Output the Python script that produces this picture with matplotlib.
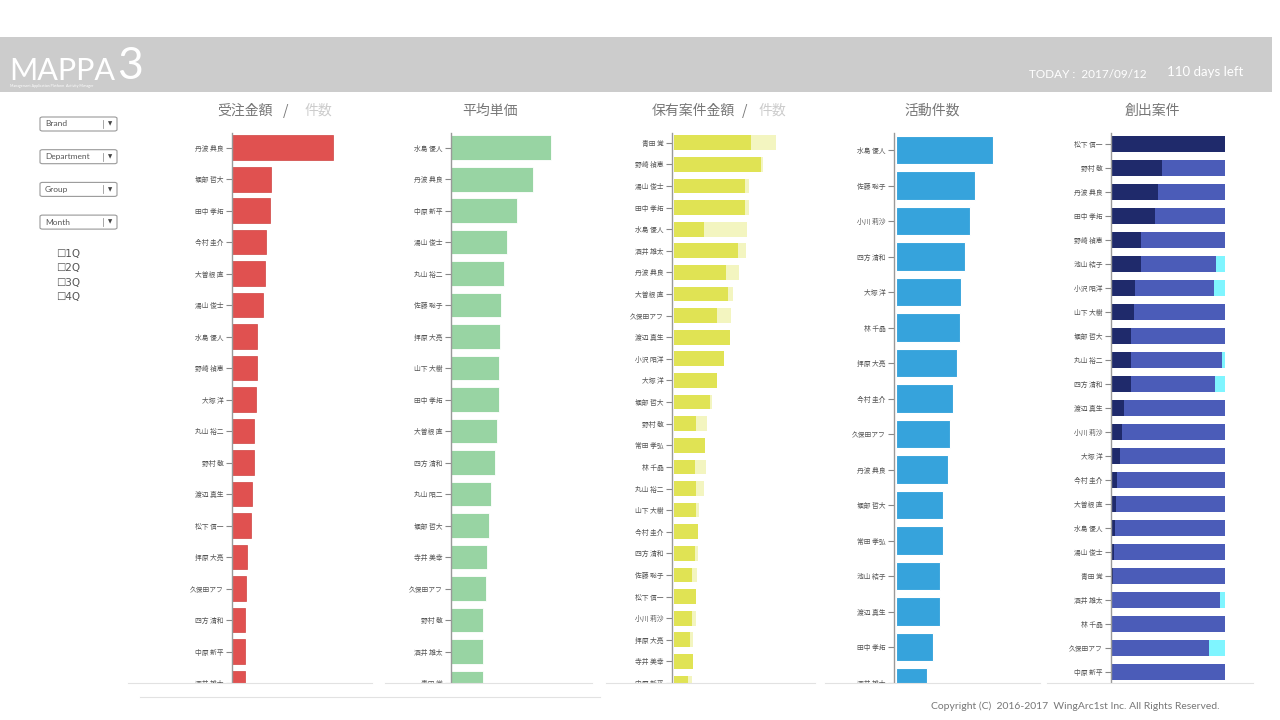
import matplotlib
matplotlib.use("Agg")
import matplotlib.pyplot as plt
from matplotlib.patches import Rectangle, FancyBboxPatch
from matplotlib.lines import Line2D

plt.rcParams['font.family'] = ['Noto Sans CJK JP', 'DejaVu Sans']

# ---- data ----
names_order = ["丹波 典良", "堀部 哲大", "田中 孝拓", "今村 圭介", "大曽根 直", "湯山 俊士",
               "水島 優人", "野崎 禎恵", "大塚 洋", "丸山 裕二", "野村 敬", "渡辺 真生",
               "松下 信一", "拝原 大亮", "久保田アフ", "四方 清和", "中原 新平", "酒井 雄太"]
order_amount = [101, 39, 38, 34, 33, 31, 25, 25, 24, 22, 22, 20, 19, 15, 14, 13, 13, 13]

names_price = ["水島 優人", "丹波 典良", "中原 新平", "湯山 俊士", "丸山 裕二", "佐藤 聡子",
               "拝原 大亮", "山下 大樹", "田中 孝拓", "大曽根 直", "四方 清和", "丸山 昭二",
               "堀部 哲大", "寺井 美幸", "久保田アフ", "野村 敬", "酒井 雄太", "青田 覚"]
avg_price = [100, 82, 65.5, 55.5, 53, 50, 49, 48, 48, 45.5, 44, 39.5, 38, 36, 35, 32, 32, 32]

names_pipe = ["青田 覚", "野崎 禎恵", "湯山 俊士", "田中 孝拓", "水島 優人", "酒井 雄太",
              "丹波 典良", "大曽根 直", "久保田アフ", "渡辺 真生", "小沢 昭洋", "大塚 洋",
              "堀部 哲大", "野村 敬", "常田 孝弘", "林 千晶", "丸山 裕二", "山下 大樹",
              "今村 圭介", "四方 清和", "佐藤 聡子", "松下 信一", "小川 莉沙", "拝原 大亮",
              "寺井 美幸", "中原 新平"]
pipe_amount = [77.7, 87, 71.7, 71.3, 30.3, 64.7, 52.7, 54.3, 43.7, 56, 50.3, 43.7, 36.3,
               22, 31, 21, 22, 22.3, 24.7, 21.3, 18, 22.7, 18, 16, 19.3, 14.7]
pipe_count = [102, 89.3, 75.3, 75.7, 73, 72.7, 65.7, 59, 57, 56, 50.3, 43.7, 38.7,
              33.3, 31, 32.7, 30, 25.7, 24.7, 24, 23.3, 22.7, 22, 19.7, 19.3, 18]

names_act = ["水島 優人", "佐藤 聡子", "小川 莉沙", "四方 清和", "大塚 洋", "林 千晶",
             "拝原 大亮", "今村 圭介", "久保田アフ", "丹波 典良", "堀部 哲大", "常田 孝弘",
             "池山 結子", "渡辺 真生", "田中 孝拓", "酒井 雄太"]
act_count = [97, 79, 74, 69, 65, 64, 61, 57, 54, 52, 47, 47, 44, 44, 37, 31]

names_new = ["松下 信一", "野村 敬", "丹波 典良", "田中 孝拓", "野崎 禎恵", "池山 結子",
             "小沢 昭洋", "山下 大樹", "堀部 哲大", "丸山 裕二", "四方 清和", "渡辺 真生",
             "小川 莉沙", "大塚 洋", "今村 圭介", "大曽根 直", "水島 優人", "湯山 俊士",
             "青田 覚", "酒井 雄太", "林 千晶", "久保田アフ", "中原 新平"]
new_won = [100, 44.7, 40.5, 38.2, 25.7, 25.7, 20.7, 19.5, 17.2, 16.9, 16.9, 10.6,
           9, 7, 4.5, 3.5, 2.5, 2, 1, 0.5, 0.5, 0.5, 0.5]
new_open = [0, 55.3, 59.5, 61.8, 74.3, 66.6, 70.1, 80.5, 82.8, 80.7, 74.2, 89.4,
            91, 93, 95.5, 96.5, 97.5, 98, 99, 95.5, 99.5, 85.5, 99.5]
new_lost = [0, 0, 0, 0, 0, 7.7, 9.2, 0, 0, 2.4, 8.9, 0,
            0, 0, 0, 0, 0, 0, 0, 4, 0, 14, 0]

filters = ["Brand", "Department", "Group", "Month"]
quarters = ["1Q", "2Q", "3Q", "4Q"]

W, H = 1280, 720
TOP, BOTTOM = 133, 683


def fx(px):
    return px / W


def fy(py):
    return 1 - py / H


fig = plt.figure(figsize=(12.8, 7.2), dpi=100)
fig.patch.set_facecolor("white")


def make_panel(left, right, y0, step, xmax, names):
    ax = fig.add_axes([fx(left), fy(BOTTOM), fx(right) - fx(left), (BOTTOM - TOP) / H])
    ax.set_xlim(0, xmax)
    ax.set_ylim((BOTTOM - y0) / step, (TOP - y0) / step)
    ax.set_yticks(range(len(names)))
    ax.set_yticklabels(names)
    ax.tick_params(axis="y", length=4, width=0.8, color="#888888", labelsize=4.9,
                   labelcolor="#555555", pad=2)
    ax.set_xticks([])
    for s in ["top", "right", "bottom"]:
        ax.spines[s].set_visible(False)
    ax.spines["left"].set_color("#999999")
    ax.spines["left"].set_linewidth(1)
    ax.patch.set_alpha(0)
    return ax


# panel 1: order amount
ax1 = make_panel(232, 372, 148, 32, 140, names_order)
ax1.barh(range(len(names_order)), order_amount, height=0.78, color="#e05150",
         edgecolor="#cf4442", linewidth=0.5)

# panel 2: average price
ax2 = make_panel(451, 592, 148, 32, 141, names_price)
ax2.barh(range(len(names_price)), avg_price, height=0.78, color="#98d4a3",
         edgecolor="white", linewidth=0.6)

# panel 3: pipeline amount / count
ax3 = make_panel(672, 812, 142.8, 21.75, 140, names_pipe)
idx3 = range(len(names_pipe))
ax3.barh(idx3, pipe_count, height=0.68, color="#f3f5c0", left=1.5)
ax3.barh(idx3, pipe_amount, height=0.68, color="#e0e354", left=1.5)

# panel 4: activities
ax4 = make_panel(894, 1034, 150, 35.5, 140, names_act)
ax4.barh(range(len(names_act)), act_count, height=0.8, color="#36a3dc",
         edgecolor="white", linewidth=0.8, left=1.5)

# panel 5: created deals (100% stacked)
ax5 = make_panel(1111, 1225, 144, 24, 101, names_new)
idx5 = range(len(names_new))
ax5.barh(idx5, new_won, height=0.7, color="#1f2a6b", left=0.8)
ax5.barh(idx5, new_open, height=0.7, color="#4b5cb8",
         left=[0.8 + a for a in new_won])
ax5.barh(idx5, new_lost, height=0.7, color="#7ff5ff",
         left=[0.8 + a + b for a, b in zip(new_won, new_open)])

# mask below the panels so cut rows look clipped
fig.add_artist(Rectangle((0, fy(705)), 1, fy(BOTTOM) - fy(705), transform=fig.transFigure,
                         facecolor="white", edgecolor="none", zorder=5))
for x0, x1, y in [(128, 372, 683), (385, 592, 683), (606, 815, 683), (825, 1040, 683),
                  (1047, 1253, 683), (140, 600, 697)]:
    fig.add_artist(Line2D([fx(x0), fx(x1)], [fy(y), fy(y)], transform=fig.transFigure,
                          color="#e2e2e2", linewidth=0.8, zorder=6))

# titles
tkw = dict(fontsize=10, va="center", ha="center", zorder=7)
fig.text(fx(245), fy(111), "受注金額", color="#777777", **tkw)
fig.text(fx(286), fy(111), "/", color="#777777", **tkw)
fig.text(fx(318), fy(111), "件数", color="#cccccc", **tkw)
fig.text(fx(490), fy(111), "平均単価", color="#777777", **tkw)
fig.text(fx(693), fy(111), "保有案件金額", color="#777777", **tkw)
fig.text(fx(745), fy(111), "/", color="#777777", **tkw)
fig.text(fx(772), fy(111), "件数", color="#cccccc", **tkw)
fig.text(fx(932), fy(111), "活動件数", color="#777777", **tkw)
fig.text(fx(1152), fy(111), "創出案件", color="#777777", **tkw)

# header band
fig.add_artist(Rectangle((0, fy(92)), fx(1272), fy(37) - fy(92), transform=fig.transFigure,
                         facecolor="#cccccc", edgecolor="none", zorder=1))
fig.text(fx(9), fy(80), "MAPPA", fontsize=22, color="white", family="Lato",
         va="baseline", ha="left", zorder=7)
fig.text(fx(117), fy(79), "3", fontsize=32, color="white", family="Lato",
         va="baseline", ha="left", zorder=7)
fig.text(fx(10), fy(86), "Management Application Platform  Activity Manager", fontsize=2.6,
         color="white", family="Lato", va="center", ha="left", zorder=7)
fig.text(fx(1029), fy(74), "TODAY :  2017/09/12", fontsize=8.5, color="white",
         family="Lato", va="center", ha="left", zorder=7)
fig.text(fx(1167), fy(72), "110 days left", fontsize=9.5, color="white",
         family="Lato", va="center", ha="left", zorder=7)

# filter dropdowns
for i, label in enumerate(filters):
    yc = 124 + 32.7 * i
    fig.add_artist(FancyBboxPatch((fx(40), fy(yc + 7)), fx(117) - fx(40), (14 / H),
                                  boxstyle="round,pad=0,rounding_size=0.002",
                                  transform=fig.transFigure, facecolor="white",
                                  edgecolor="#999999", linewidth=0.8, zorder=7))
    fig.add_artist(Line2D([fx(103), fx(103)], [fy(yc - 4), fy(yc + 4)],
                          transform=fig.transFigure, color="#999999", linewidth=0.6,
                          zorder=8))
    fig.text(fx(45), fy(yc), label, fontsize=6, color="#555555", family="Lato",
             va="center", ha="left", zorder=8)
    fig.text(fx(110), fy(yc), "▼", fontsize=4, color="#444444",
             family=["DejaVu Sans"], va="center", ha="center", zorder=8)

for i, q in enumerate(quarters):
    fig.text(fx(56), fy(254 + 14.4 * i), "☐" + q, fontsize=7.5, color="#555555",
             family=["DejaVu Sans"], va="center", ha="left", zorder=8)

fig.text(fx(1075), fy(706), "Copyright (C)  2016-2017  WingArc1st Inc. All Rights Reserved.",
         fontsize=7.5, color="#777777", family="Lato", va="center", ha="center", zorder=8)

fig.savefig("out.png", dpi=100, facecolor="white")
